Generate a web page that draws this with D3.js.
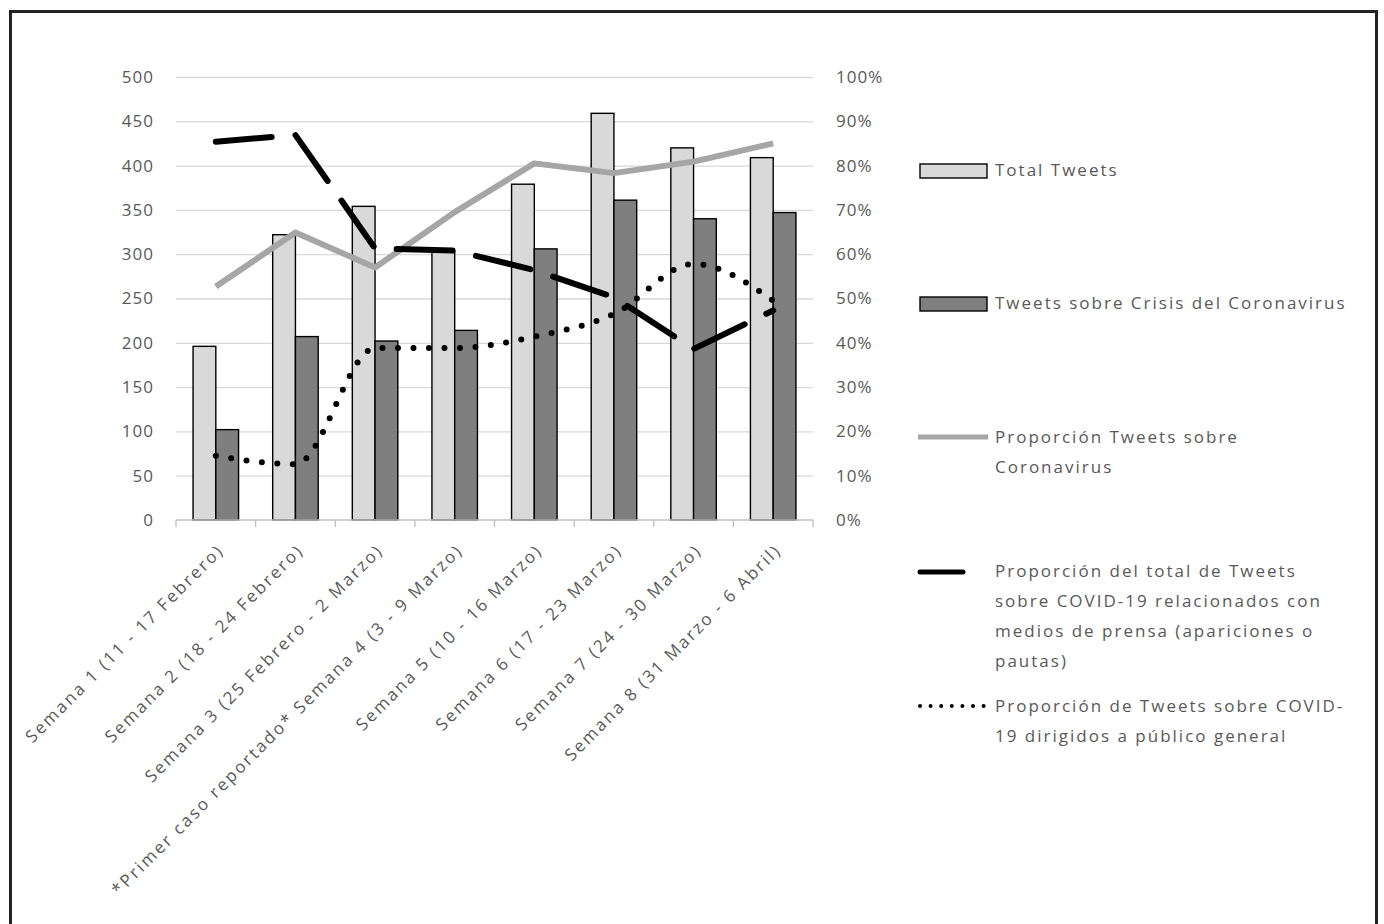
<!DOCTYPE html>
<html>
<head>
<meta charset="utf-8">
<script src="https://cdn.jsdelivr.net/npm/d3@7"></script>
<style>
  body { margin: 0; background: #fff; }
  text { font-family: "Open Sans", sans-serif; fill: #595959; letter-spacing: 2px; }
</style>
</head>
<body>
<div id="chart"></div>
<script>
// datos
var semanas = [
  "Semana 1 (11 - 17 Febrero)",
  "Semana 2 (18 - 24 Febrero)",
  "Semana 3 (25 Febrero - 2 Marzo)",
  "*Primer caso reportado* Semana 4 (3 - 9 Marzo)",
  "Semana 5 (10 - 16 Marzo)",
  "Semana 6 (17 - 23 Marzo)",
  "Semana 7 (24 - 30 Marzo)",
  "Semana 8 (31 Marzo - 6 Abril)"
];
var totalTweets = [196, 322, 354, 303, 379, 459, 420, 409];
var tweetsCrisis = [102, 207, 202, 214, 306, 361, 340, 347];
var propCoronavirus = [52.7, 64.9, 57.0, 69.5, 80.5, 78.3, 80.9, 85.0];
var propPrensa = [85.4, 86.9, 61.3, 60.8, 56.4, 50.3, 38.6, 47.3];
var propPublico = [14.5, 12.6, 38.8, 38.8, 41.4, 46.5, 57.8, 49.5];
var ticksIzq = [0, 50, 100, 150, 200, 250, 300, 350, 400, 450, 500];
var ticksDer = [0, 10, 20, 30, 40, 50, 60, 70, 80, 90, 100];
var series = ["Total Tweets", "Tweets sobre Crisis del Coronavirus"];

var W = 1384, H = 924;
var mLeft = 176, mRight = 813, mTop = 77, mBottom = 520;

var svg = d3.select("#chart").append("svg")
  .attr("width", W).attr("height", H);

// marco
svg.append("rect")
  .attr("x", 10.5).attr("y", 11.5)
  .attr("width", 1366).attr("height", 940)
  .attr("fill", "none").attr("stroke", "#222").attr("stroke-width", 3);

var x = d3.scaleBand().domain(semanas).range([mLeft, mRight]).padding(0);
var xs = d3.scaleBand().domain(series).range([0, x.bandwidth()]).paddingInner(0).paddingOuter(0.75);
var y = d3.scaleLinear().domain([0, 500]).range([mBottom, mTop]);
var y2 = d3.scaleLinear().domain([0, 100]).range([mBottom, mTop]);

// lineas de cuadricula
var grid = svg.append("g")
  .attr("transform", "translate(" + mLeft + ",0)")
  .call(d3.axisLeft(y).tickValues(ticksIzq).tickSize(-(mRight - mLeft)).tickFormat(""));
grid.select(".domain").remove();
grid.selectAll("line").attr("stroke", "#d9d9d9").attr("stroke-width", 1.3);
grid.selectAll(".tick").filter(function(d){ return d == 0; }).remove();

// eje izquierdo
var yAxisGroup = svg.append("g")
  .attr("transform", "translate(" + mLeft + ",0)")
  .call(d3.axisLeft(y).tickValues(ticksIzq).tickSize(0).tickPadding(22));
yAxisGroup.select(".domain").remove();
yAxisGroup.selectAll("text").style("font-size", "17px").style("letter-spacing", "1px");

// eje derecho
var y2AxisGroup = svg.append("g")
  .attr("transform", "translate(" + mRight + ",0)")
  .call(d3.axisRight(y2).tickValues(ticksDer).tickSize(0).tickPadding(23).tickFormat(function(d){ return d + "%"; }));
y2AxisGroup.select(".domain").remove();
y2AxisGroup.selectAll("text").style("font-size", "17px").style("letter-spacing", "1px");

// barras
var barData = [];
semanas.forEach(function(s, i){
  barData.push({sem: s, serie: series[0], v: totalTweets[i]});
  barData.push({sem: s, serie: series[1], v: tweetsCrisis[i]});
});
var colorBar = d3.scaleOrdinal().domain(series).range(["#d9d9d9", "#7f7f7f"]);

svg.append("g").selectAll("rect")
  .data(barData)
  .enter()
  .append("rect")
  .attr("x", function(d){ return x(d.sem) + xs(d.serie); })
  .attr("y", function(d){ return y(d.v); })
  .attr("width", xs.bandwidth())
  .attr("height", function(d){ return mBottom - y(d.v); })
  .attr("fill", function(d){ return colorBar(d.serie); })
  .attr("stroke", "#000").attr("stroke-width", 1.4);

// eje x
var xAxisGroup = svg.append("g")
  .attr("transform", "translate(0," + mBottom + ")");
xAxisGroup.append("line")
  .attr("x1", mLeft).attr("x2", mRight)
  .attr("stroke", "#bfbfbf").attr("stroke-width", 1.3);
var cortes = semanas.map(function(s){ return x(s); }).concat([mRight]);
xAxisGroup.selectAll(".corte")
  .data(cortes)
  .enter()
  .append("line")
  .attr("class", "corte")
  .attr("x1", function(d){ return d; }).attr("x2", function(d){ return d; })
  .attr("y1", 0).attr("y2", 7)
  .attr("stroke", "#bfbfbf").attr("stroke-width", 1.3);
xAxisGroup.selectAll(".etq")
  .data(semanas)
  .enter()
  .append("text")
  .attr("class", "etq")
  .attr("transform", function(d){ return "translate(" + (x(d) + x.bandwidth() / 2 + 5) + ",27) rotate(-45)"; })
  .attr("text-anchor", "end")
  .attr("dy", "0.35em")
  .style("font-size", "17px")
  .style("letter-spacing", "2.3px")
  .text(function(d){ return d; });

// lineas
var cx = function(d, i){ return x(semanas[i]) + x.bandwidth() / 2; };

var lineaRecta = d3.line()
  .x(cx)
  .y(function(d){ return y2(d); });
var lineaSuave = d3.line()
  .x(cx)
  .y(function(d){ return y2(d); })
  .curve(d3.curveMonotoneX);

svg.append("path")
  .datum(propCoronavirus)
  .attr("d", lineaRecta)
  .attr("fill", "none").attr("stroke", "#a6a6a6").attr("stroke-width", 6)
  .attr("stroke-linejoin", "round");

svg.append("path")
  .datum(propPrensa)
  .attr("d", lineaRecta)
  .attr("fill", "none").attr("stroke", "#000").attr("stroke-width", 6)
  .attr("stroke-linecap", "round")
  .attr("stroke-dasharray", "56,24");

svg.append("path")
  .datum(propPublico)
  .attr("d", lineaSuave)
  .attr("fill", "none").attr("stroke", "#000").attr("stroke-width", 6)
  .attr("stroke-linecap", "round")
  .attr("stroke-dasharray", "0,15.5");

// leyenda
var leyenda = svg.append("g");
var lx = 918, tx = 995;

leyenda.append("rect").attr("x", 920).attr("y", 164).attr("width", 67).attr("height", 14)
  .attr("fill", "#d9d9d9").attr("stroke", "#000").attr("stroke-width", 1.4);
leyenda.append("rect").attr("x", 920).attr("y", 297).attr("width", 67).attr("height", 14)
  .attr("fill", "#7f7f7f").attr("stroke", "#000").attr("stroke-width", 1.4);
leyenda.append("line").attr("x1", lx).attr("x2", 988).attr("y1", 437).attr("y2", 437)
  .attr("stroke", "#a6a6a6").attr("stroke-width", 5);
leyenda.append("line").attr("x1", lx + 2).attr("x2", 963).attr("y1", 572).attr("y2", 572)
  .attr("stroke", "#000").attr("stroke-width", 5).attr("stroke-linecap", "round");
leyenda.append("line").attr("x1", lx + 2).attr("x2", 984).attr("y1", 706).attr("y2", 706)
  .attr("stroke", "#000").attr("stroke-width", 4).attr("stroke-linecap", "round")
  .attr("stroke-dasharray", "0,10.6");

var textos = [
  {y: 170, lineas: ["Total Tweets"]},
  {y: 303, lineas: ["Tweets sobre Crisis del Coronavirus"]},
  {y: 437, lineas: ["Proporción Tweets sobre", "Coronavirus"]},
  {y: 571, lineas: ["Proporción del total de Tweets", "sobre COVID-19 relacionados con", "medios de prensa (apariciones o", "pautas)"]},
  {y: 706, lineas: ["Proporción de Tweets sobre COVID-", "19 dirigidos a público general"]}
];
textos.forEach(function(t){
  t.lineas.forEach(function(l, j){
    leyenda.append("text")
      .attr("x", tx).attr("y", t.y + j * 30)
      .attr("dy", "0.35em")
      .style("font-size", "17px")
      .text(l);
  });
});
</script>
</body>
</html>
